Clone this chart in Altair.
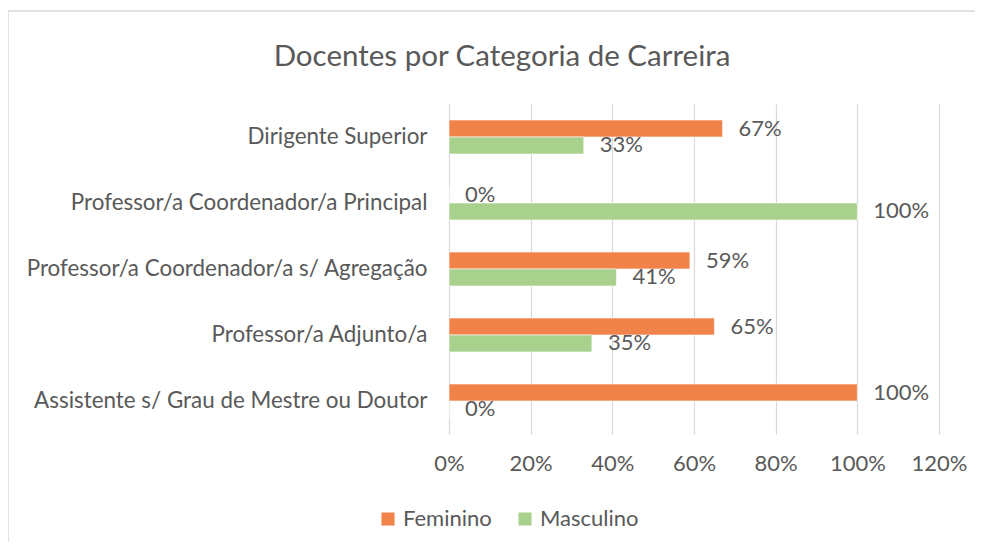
import altair as alt
import pandas as pd

title_text = "Docentes por Categoria de Carreira"
categories = [
    "Dirigente Superior",
    "Professor/a Coordenador/a Principal",
    "Professor/a Coordenador/a s/ Agregação",
    "Professor/a Adjunto/a",
    "Assistente s/ Grau de Mestre ou Doutor",
]
series = ["Feminino", "Masculino"]
feminino = [0.67, 0.0, 0.59, 0.65, 1.00]
masculino = [0.33, 1.00, 0.41, 0.35, 0.0]
x_ticks = [0, 0.2, 0.4, 0.6, 0.8, 1.0, 1.2]
colors = ["#F0824A", "#A9D18E"]

rows = []
for c, f, m in zip(categories, feminino, masculino):
    rows.append({"cat": c, "genero": "Feminino", "val": f})
    rows.append({"cat": c, "genero": "Masculino", "val": m})
df = pd.DataFrame(rows)

FONT = "Lato"
GREY = "#595959"
FS = 22

y_enc = alt.Y("cat:N", sort=categories, title=None,
              scale=alt.Scale(paddingInner=0.485, paddingOuter=0.2425),
              axis=alt.Axis(labelFontSize=22.4, labelColor=GREY, labelFont=FONT,
                            labelPadding=22, ticks=False, domain=False, labelLimit=500))
yoff = alt.YOffset("genero:N", sort=series, scale=alt.Scale(paddingInner=0, paddingOuter=0))

base = alt.Chart(df)

bars = base.mark_bar(stroke="white", strokeWidth=0.6).encode(
    x=alt.X("val:Q", title=None,
            scale=alt.Scale(domain=[0, 1.2], nice=False),
            axis=alt.Axis(values=x_ticks, format=".0%", labelFontSize=FS, labelColor=GREY,
                          labelFont=FONT, labelPadding=19, ticks=False, domain=False,
                          labelOverlap=False, labelFlush=False, labelBound=False,
                          gridColor="#D9D9D9", gridWidth=1.2)),
    y=y_enc,
    yOffset=yoff,
    color=alt.Color("genero:N", sort=series,
                    scale=alt.Scale(domain=series, range=colors),
                    legend=alt.Legend(title=None, orient="none", direction="horizontal",
                                      legendX=-72, legendY=404, symbolType="square",
                                      symbolSize=170, symbolStrokeWidth=0,
                                      labelFontSize=FS, labelColor=GREY, labelFont=FONT,
                                      labelOffset=4, columnPadding=22)),
)

labels = base.mark_text(align="left", baseline="middle", dx=16, fontSize=FS,
                        font=FONT, color=GREY).encode(
    x="val:Q",
    y=alt.Y("cat:N", sort=categories),
    yOffset=yoff,
    text=alt.Text("val:Q", format=".0%"),
)

border = alt.Chart(alt.Data(values=[{}])).mark_rect(
    filled=False, stroke="#D9D9D9", strokeWidth=1.5
).encode(
    x=alt.value(-441), x2=alt.value(560),
    y=alt.value(-93), y2=alt.value(480),
)

title = alt.Chart(alt.Data(values=[{"t": title_text}])).mark_text(
    align="center", baseline="alphabetic", fontSize=29.5, font=FONT, color=GREY
).encode(
    x=alt.value(53), y=alt.value(-38), text="t:N",
)

chart = alt.layer(border, title, bars, labels).properties(
    width=490, height=330,
    padding={"left": 441, "top": 96, "right": 36, "bottom": 108},
    autosize=alt.AutoSizeParams(type="none"),
).configure_view(stroke=None)

chart.save("out.html", embed_options={"renderer": "svg", "actions": False})
